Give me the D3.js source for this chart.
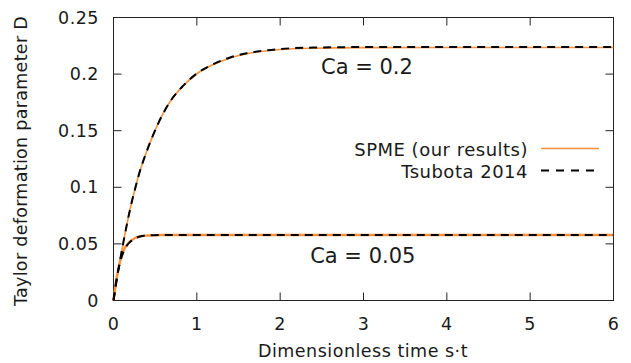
<!DOCTYPE html>
<html>
<head>
<meta charset="utf-8">
<script src="https://cdn.jsdelivr.net/npm/d3@7"></script>
<style>
  body { margin: 0; background: white; }
  text { font-family: "DejaVu Sans", Verdana, sans-serif; fill: #1a1a1a; letter-spacing: 0.5px; }
</style>
</head>
<body>
<div id="Canvas"></div>
<script>
// 時間 (s·t)
const times = [0, 0.04, 0.08, 0.12, 0.16, 0.2, 0.26, 0.32, 0.38, 0.48, 0.58, 0.7, 0.84, 1.0, 1.2, 1.4, 1.6, 1.8, 2.0, 2.4, 3.0, 4.0, 5.0, 6.0]
// Ca = 0.2
const tsubota_02 = [0, 0.019, 0.036, 0.052, 0.067, 0.081, 0.099, 0.115, 0.128, 0.147, 0.163, 0.178, 0.190, 0.2005, 0.2088, 0.2147, 0.2185, 0.2207, 0.2222, 0.2234, 0.2239, 0.224, 0.224, 0.224]
const spme_02 = [0, 0.019, 0.036, 0.052, 0.067, 0.081, 0.099, 0.115, 0.128, 0.147, 0.163, 0.178, 0.190, 0.2003, 0.2085, 0.2143, 0.2180, 0.2202, 0.2217, 0.2229, 0.2234, 0.2235, 0.2235, 0.2235]
// Ca = 0.05
const tsubota_005 = [0, 0.020, 0.034, 0.043, 0.0485, 0.0518, 0.0550, 0.0565, 0.0572, 0.0577, 0.0578, 0.0579, 0.0579, 0.0579, 0.0579, 0.0579, 0.0579, 0.0579, 0.0579, 0.0579, 0.0579, 0.0579, 0.0579, 0.0579]
const spme_005 = [0, 0.021, 0.035, 0.044, 0.049, 0.0522, 0.0552, 0.0566, 0.0573, 0.0577, 0.0578, 0.0578, 0.0578, 0.0578, 0.0578, 0.0578, 0.0578, 0.0578, 0.0578, 0.0578, 0.0578, 0.0578, 0.0578, 0.0578]

const x_ticks = [0, 1, 2, 3, 4, 5, 6]
const y_ticks = [0, 0.05, 0.1, 0.15, 0.2, 0.25]
const y_tick_labels = ["0", "0.05", "0.1", "0.15", "0.2", "0.25"]
const legend_names = ["SPME (our results)", "Tsubota 2014"]
const ca_labels = [{text: "Ca = 0.2", t: 2.49, d: 0.2005}, {text: "Ca = 0.05", t: 2.36, d: 0.0334}]

let svg = d3.select("#Canvas")
    .append("svg")
    .attr("width", 631)
    .attr("height", 363)
    .style("background", "white")

let X_Scale = d3.scaleLinear().domain([0, 6]).range([113.5, 613.5])
let Y_Scale = d3.scaleLinear().domain([0, 0.25]).range([300.5, 17.5])

// 框
svg.append("rect")
    .attr("x", X_Scale(0)).attr("y", Y_Scale(0.25))
    .attr("width", X_Scale(6) - X_Scale(0)).attr("height", Y_Scale(0) - Y_Scale(0.25))
    .attr("fill", "none").attr("stroke", "#222").attr("stroke-width", 1)

// 刻度 (向內, 四邊)
let tl = 8
svg.append("g").selectAll("line").data(x_ticks.slice(1, -1)).enter()
    .append("line")
    .attr("x1", d => X_Scale(d)).attr("x2", d => X_Scale(d))
    .attr("y1", Y_Scale(0)).attr("y2", Y_Scale(0) - tl)
    .attr("stroke", "#222")
svg.append("g").selectAll("line").data(x_ticks.slice(1, -1)).enter()
    .append("line")
    .attr("x1", d => X_Scale(d)).attr("x2", d => X_Scale(d))
    .attr("y1", Y_Scale(0.25)).attr("y2", Y_Scale(0.25) + tl)
    .attr("stroke", "#222")
svg.append("g").selectAll("line").data(y_ticks.slice(1, -1)).enter()
    .append("line")
    .attr("x1", X_Scale(0)).attr("x2", X_Scale(0) + tl)
    .attr("y1", d => Y_Scale(d)).attr("y2", d => Y_Scale(d))
    .attr("stroke", "#222")
svg.append("g").selectAll("line").data(y_ticks.slice(1, -1)).enter()
    .append("line")
    .attr("x1", X_Scale(6)).attr("x2", X_Scale(6) - tl)
    .attr("y1", d => Y_Scale(d)).attr("y2", d => Y_Scale(d))
    .attr("stroke", "#222")

// 刻度文字
svg.append("g").selectAll("text").data(x_ticks).enter()
    .append("text")
    .attr("x", d => X_Scale(d)).attr("y", 330)
    .attr("text-anchor", "middle").style("font-size", "17.5px")
    .text(d => d)
svg.append("g").selectAll("text").data(y_ticks).enter()
    .append("text")
    .attr("x", 99).attr("y", d => Y_Scale(d) + 6)
    .attr("text-anchor", "end").style("font-size", "17.5px")
    .text((d, i) => y_tick_labels[i])

// 軸標題
svg.append("text")
    .attr("x", 363).attr("y", 357)
    .attr("text-anchor", "middle").style("font-size", "17.5px")
    .text("Dimensionless time s·t")
svg.append("text")
    .attr("transform", "translate(27,161) rotate(-90)")
    .attr("text-anchor", "middle").style("font-size", "17.5px").style("letter-spacing", "0.3px")
    .text("Taylor deformation parameter D")

// 曲線
let l = d3.line()
    .x((d, i) => X_Scale(times[i]))
    .y(d => Y_Scale(d))
    .curve(d3.curveMonotoneX)

let orange = "#f7913d"
svg.append("path").attr("d", l(spme_02))
    .attr("fill", "none").attr("stroke", orange).attr("stroke-width", 1.6)
svg.append("path").attr("d", l(spme_005))
    .attr("fill", "none").attr("stroke", orange).attr("stroke-width", 2.4)
svg.append("path").attr("d", l(tsubota_02))
    .attr("fill", "none").attr("stroke", "black").attr("stroke-width", 2)
    .attr("stroke-dasharray", "8,6")
svg.append("path").attr("d", l(tsubota_005))
    .attr("fill", "none").attr("stroke", "black").attr("stroke-width", 2)
    .attr("stroke-dasharray", "8,6")

// Ca 標籤
svg.append("g").selectAll("text").data(ca_labels).enter()
    .append("text")
    .attr("x", d => X_Scale(d.t)).attr("y", d => Y_Scale(d.d))
    .style("font-size", "21px").style("letter-spacing", "0px")
    .text(d => d.text)

// 圖例
let legend = svg.append("g")
legend.selectAll("text").data(legend_names).enter()
    .append("text")
    .attr("x", 528).attr("y", (d, i) => 155.5 + i * 22)
    .attr("text-anchor", "end").style("font-size", "18px")
    .text(d => d)
legend.append("line")
    .attr("x1", 541).attr("x2", 599).attr("y1", 148.5).attr("y2", 148.5)
    .attr("stroke", orange).attr("stroke-width", 1.6)
legend.append("line")
    .attr("x1", 541).attr("x2", 599).attr("y1", 170.5).attr("y2", 170.5)
    .attr("stroke", "black").attr("stroke-width", 2)
    .attr("stroke-dasharray", "8,7")
</script>
</body>
</html>
